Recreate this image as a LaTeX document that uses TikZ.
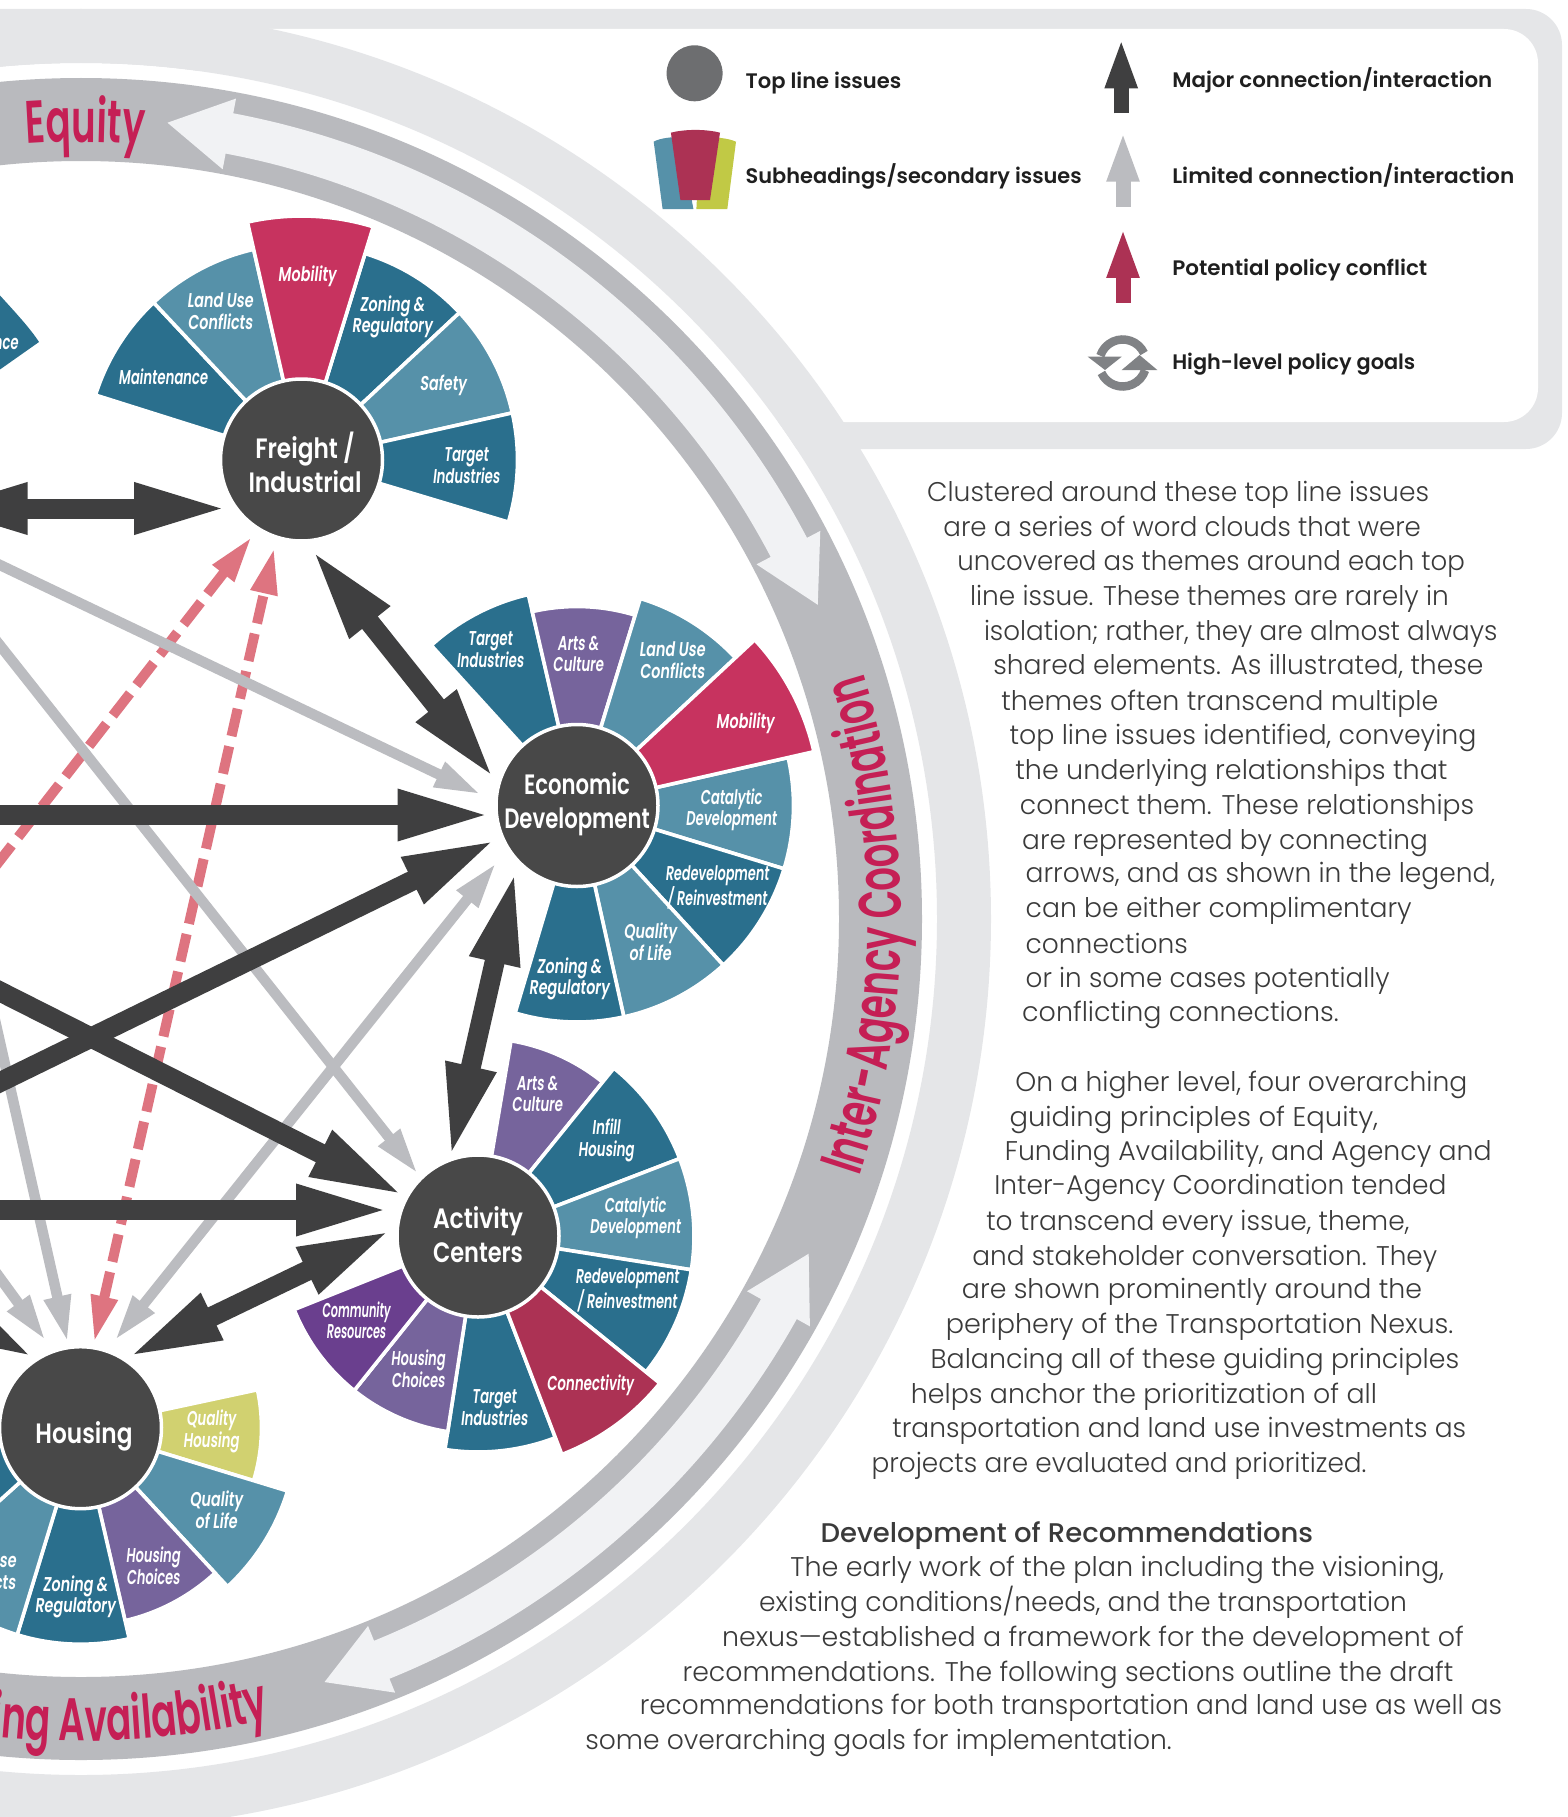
\documentclass[tikz,border=0pt]{standalone}
\usepackage{graphicx}
\usepackage{fontspec}
\usetikzlibrary{arrows.meta,calc,decorations.text}
\newfontfamily\bodyf{Poppins Light}
\newfontfamily\headf{Poppins Medium}
\newfontfamily\legf{Poppins SemiBold}
\newfontfamily\labf[FakeStretch=.72,FakeSlant=.12]{Poppins SemiBold}
\newfontfamily\circf{Poppins SemiBold}
\newfontfamily\curvfam[FakeStretch=.62]{Poppins SemiBold}
\definecolor{ringlight}{HTML}{E5E6E8}
\definecolor{ringgray}{HTML}{B9BABE}
\definecolor{strip}{HTML}{F1F2F4}
\definecolor{tealdark}{HTML}{2A6F8D}
\definecolor{tealmid}{HTML}{5691A9}
\definecolor{purp}{HTML}{76649C}
\definecolor{purpdeep}{HTML}{6A3F8E}
\definecolor{crim}{HTML}{C7335F}
\definecolor{wine}{HTML}{AC3254}
\definecolor{olive}{HTML}{D1D170}
\definecolor{oliveleg}{HTML}{C1C945}
\definecolor{hubdark}{HTML}{484848}
\definecolor{arrowdark}{HTML}{3F3F40}
\definecolor{arrowgray}{HTML}{BBBCC0}
\definecolor{arrowpink}{HTML}{DE7480}
\definecolor{ringtext}{HTML}{C51F55}
\definecolor{legcircle}{HTML}{6D6E70}
\definecolor{legicon}{HTML}{808285}
\definecolor{bodyc}{HTML}{3A3A3A}
\newcommand\curvf{\fontsize{60}{60}\selectfont\curvfam\color{ringtext}}
\newcounter{bodyline}
\newcommand\bl[4]{\stepcounter{bodyline}\pgfmathsetlengthmacro\lw{(#2-#1)*1.159}%
 \node[bodytext,name=b\arabic{bodyline}] at ({#1*1.159},{-(#3*1.159+10)}) {\resizebox{\lw}{\height}{#4}};}
\newcommand\bhd[4]{\stepcounter{bodyline}\pgfmathsetlengthmacro\lw{(#2-#1)*1.159}%
 \node[bodytext,font=\fontsize{27}{30}\selectfont\headf,name=b\arabic{bodyline}] at ({#1*1.159},{-(#3*1.159+10)}) {\resizebox{\lw}{\height}{#4}};}
\newcommand\lgt[5]{\node[legtext,name=#1] at (#2,-#3) {\resizebox{#4pt}{\height}{#5}};}
\newcommand\seg[5]{\draw[segline,fill=#5,shift={(#1)}] (0,0) -- (#2:#4) arc[start angle=#2,end angle=#3,radius=#4] -- cycle;}
\newcommand\lab[5][1]{\node[seglabel,name=#2] at (#3,-#4-2) {\scalebox{#1}[1]{\begin{tabular}{@{}c@{}}#5\end{tabular}}};}
\newcommand\hl[2]{\resizebox{#1pt}{\height}{#2}}
\newcommand\hubtext[2]{\raisebox{#1pt}[0pt][0pt]{\begin{tabular}{@{}c@{}}#2\end{tabular}}}
\tikzset{
 bodytext/.style={anchor=base west,inner sep=0pt,outer sep=0pt,text=bodyc,font=\fontsize{27}{30}\selectfont\bodyf},
 legtext/.style={anchor=west,inner sep=0pt,outer sep=0pt,text=black!88,font=\fontsize{21}{24}\selectfont\legf},
 segline/.style={draw=white,line width=3.6pt},
 seglabel/.style={inner sep=0pt,outer sep=0pt,text=white,font=\fontsize{20}{20.5}\selectfont\labf},
 hub/.style={circle,fill=hubdark,draw=white,line width=3.5pt,minimum size=162pt,inner sep=0pt,outer sep=0pt,align=center,text=white,font=\fontsize{28}{34.5}\selectfont\circf},
 major/.style={draw=arrowdark,line width=20pt,shorten >=-8.5pt,-{Triangle[length=95pt,width=46pt]}},
 majorboth/.style={draw=arrowdark,line width=20pt,shorten >=-8.5pt,shorten <=-8.5pt,{Triangle[length=95pt,width=46pt]}-{Triangle[length=95pt,width=46pt]}},
 limited/.style={draw=arrowgray,line width=10.5pt,shorten >=-4.5pt,-{Triangle[length=47pt,width=25pt]}},
 limitedboth/.style={draw=arrowgray,line width=10.5pt,shorten >=-4.5pt,shorten <=-4.5pt,{Triangle[length=47pt,width=25pt]}-{Triangle[length=47pt,width=25pt]}},
 conflict/.style={draw=arrowpink,line width=10pt,shorten >=-4.5pt,dash pattern=on 28pt off 10.5pt,-{Triangle[length=47pt,width=25pt]}},
 conflictboth/.style={draw=arrowpink,line width=10pt,shorten >=-4.5pt,shorten <=-4.5pt,dash pattern=on 28pt off 10.5pt,{Triangle[length=47pt,width=25pt]}-{Triangle[length=47pt,width=25pt]}},
 legarrow/.style={line width=15pt,shorten >=-5pt,-{Triangle[length=50.6pt,width=29pt]}},
}
\begin{document}
\begin{tikzpicture}[x=1pt,y=1pt]
\useasboundingbox (0,0) rectangle (1567,-1817);
\clip (0,0) rectangle (1567,-1817);
\coordinate (ringc) at (81,-919);
% legend panel
\fill[ringlight,rounded corners=36pt] (-100,-9) rectangle (1562,-449);
\fill[white,rounded corners=34pt] (200,-29) rectangle (1538,-422);
% rings
\begin{scope}[shift={(ringc)}]
\fill[white] (0,0) circle[radius=856];
\draw[ringlight,line width=54pt] (0,0) circle[radius=883];
\draw[ringgray,line width=83pt] (0,0) circle[radius=799.5];
% light strips with arrowheads
\fill[strip] (79.3:820) arc[start angle=79.3,end angle=27.7,radius=820] -- (27.7:835) -- (23.1:801) -- (27.7:763) -- (27.7:779) arc[start angle=27.7,end angle=79.3,radius=779] -- (79.3:763) -- (83.8:801) -- (79.3:835) -- cycle;
\fill[strip] (-29.2:820) arc[start angle=-29.2,end angle=-67.9,radius=820] -- (-67.9:835) -- (-72.3:801) -- (-67.9:763) -- (-67.9:779) arc[start angle=-67.9,end angle=-29.2,radius=779] -- (-29.2:763) -- (-24.7:801) -- (-29.2:835) -- cycle;
% ring texts
\path[decorate,decoration={text along path,text align=center,text={|\curvf|Equity}}] (109.7:777) arc[start angle=109.7,end angle=69.7,radius=777];
\path[decorate,decoration={text along path,text align=center,text={|\curvf|Inter-Agency Coordination}}] (-30.45:820) arc[start angle=-30.45,end angle=29.55,radius=820];
\path[decorate,decoration={text along path,text align=right,text={|\curvf|Funding Availability}}] (-135:822) arc[start angle=-135,end angle=-76.7,radius=822];
\end{scope}
% cropped wedge of a hub beyond the frame
\fill[tealdark] (-5,-290) .. controls (15,-312) and (30,-328) .. (39,-342) -- (-5,-373) -- cycle;
\node[seglabel,anchor=east,name=maintcrop] at (18,-342) {\scalebox{.92}[1]{Maintenance}};
% hub centres
\coordinate (Fc) at (301.5,-460);
\coordinate (Ec) at (577,-805.5);
\coordinate (Ac) at (478,-1236);
\coordinate (Hc) at (80.5,-1427.7);
% freight wedges
\seg{Fc}{162.5}{133.2}{216}{tealdark}
\seg{Fc}{133.2}{102.8}{216}{tealmid}
\seg{Fc}{72.9}{43}{216}{tealdark}
\seg{Fc}{43}{12.6}{216}{tealmid}
\seg{Fc}{12.6}{-16.7}{216}{tealdark}
\seg{Fc}{102.8}{72.9}{244}{crim}
% economic wedges
\seg{Ec}{132.3}{103}{216.5}{tealdark}
\seg{Ec}{103}{73}{199}{purp}
\seg{Ec}{73}{43}{216.5}{tealmid}
\seg{Ec}{12.8}{-17}{216.5}{tealmid}
\seg{Ec}{-17}{-47.5}{216.5}{tealdark}
\seg{Ec}{-47.5}{-77.5}{216.5}{tealmid}
\seg{Ec}{-77.5}{-106.6}{216.5}{tealdark}
\seg{Ec}{43}{12.8}{243}{crim}
% activity wedges
\seg{Ac}{80.4}{51}{198}{purp}
\seg{Ac}{51}{21}{216}{tealdark}
\seg{Ac}{21}{-9}{216}{tealmid}
\seg{Ac}{-9}{-39}{216}{tealdark}
\seg{Ac}{-69}{-98.8}{216}{tealdark}
\seg{Ac}{-98.8}{-128.7}{198}{purp}
\seg{Ac}{-128.7}{-158.2}{198}{purpdeep}
\seg{Ac}{-39}{-69}{234}{wine}
% housing wedges
\seg{Hc}{12.1}{-17}{181}{olive}
\seg{Hc}{-17}{-47.2}{216.5}{tealmid}
\seg{Hc}{-47.2}{-77}{198}{purp}
\seg{Hc}{-77}{-107}{216.5}{tealdark}
\seg{Hc}{-107}{-138}{216.5}{tealmid}
\seg{Hc}{-138}{-168}{216.5}{tealdark}
% hubs
\node[hub,name=F] at (Fc) {\hspace*{7pt}\hubtext{-13.4}{\hl{99.5}{Freight /}\\\hl{113}{Industrial}}};
\node[hub,name=E] at (Ec) {\hubtext{-5.3}{\hl{106}{Economic}\\\hl{145.5}{Development}}};
\node[hub,name=A] at (Ac) {\hubtext{-8.7}{\hl{90}{Activity}\\\hl{90}{Centers}}};
\node[hub,name=H] at (Hc) {\hspace*{7pt}\hubtext{-15}{\hl{97}{Housing}}};
% connector ends
\coordinate (fTipE) at (316,-555);
\coordinate (eTipF) at (490,-773.3);
\coordinate (fTipW) at (220.7,-508.5);
\coordinate (wTipF) at (-59,-508.5);
\coordinate (offC) at (-100,-517.3);
\coordinate (eTipC) at (477.3,-792.7);
\coordinate (offD) at (-100,-519);
\coordinate (aTipD) at (415.4,-1170.7);
\coordinate (offE) at (-50,-815);
\coordinate (eTipE) at (484,-815);
\coordinate (offG) at (-100,-1131);
\coordinate (eTipG) at (490,-842.7);
\coordinate (eTipH) at (493.8,-866);
\coordinate (hTipE) at (117.3,-1337.3);
\coordinate (offI) at (-100,-941);
\coordinate (aTipI) at (397.5,-1192.3);
\coordinate (offJ) at (-50,-1210);
\coordinate (aTipJ) at (382.5,-1210);
\coordinate (aTipH) at (385,-1233.3);
\coordinate (hTipA) at (134.3,-1354);
\coordinate (eTipA) at (513.8,-877.7);
\coordinate (aTipE) at (451.8,-1150.7);
\coordinate (offM) at (-100,-989);
\coordinate (fTipM) at (249.3,-540);
\coordinate (fTipN) at (273.3,-551.7);
\coordinate (hTipN) at (95,-1338.3);
\coordinate (offO) at (-100,-1141);
\coordinate (hTipO) at (43.3,-1337.3);
\coordinate (offP) at (-40,-865);
\coordinate (hTipP) at (66.7,-1338.3);
\coordinate (offQ) at (-200,-1231);
\coordinate (hTipQ) at (27.7,-1354.3);
% conflict connectors
\draw[conflict] (offM) -- (fTipM);
\draw[conflictboth] (hTipN) -- (fTipN);
% limited connectors
\draw[limited] (offC) -- (eTipC);
\draw[limited] (offD) -- (aTipD);
\draw[limitedboth] (hTipE) -- (eTipH);
\draw[limited] (offO) -- (hTipO);
\draw[limited] (offP) -- (hTipP);
% major connectors
\draw[majorboth] (wTipF) -- (fTipW);
\draw[majorboth] (fTipE) -- (eTipF);
\draw[major] (offE) -- (eTipE);
\draw[major] (offG) -- (eTipG);
\draw[major] (offI) -- (aTipI);
\draw[major] (offJ) -- (aTipJ);
\draw[major] (offQ) -- (hTipQ);
\draw[majorboth] (aTipH) -- (hTipA);
\draw[majorboth] (eTipA) -- (aTipE);
% wedge labels: freight
\lab{l1}{307}{275}{Mobility}
\lab{l2}{220}{312}{Land Use\\Conflicts}
\lab{l3}{392}{315}{Zoning \&\\Regulatory}
\lab{l4}{443}{384}{Safety}
\lab[.92]{l5}{466}{466}{Target\\Industries}
\lab[.92]{l6}{163}{378}{Maintenance}
% economic
\lab[.92]{l7}{490}{650}{Target\\Industries}
\lab[.93]{l8}{578}{655}{Arts \&\\Culture}
\lab{l9}{672}{661}{Land Use\\Conflicts}
\lab{l10}{745}{722}{Mobility}
\lab[.92]{l11}{731}{808}{Catalytic\\Development}
\lab[.89]{l12}{717}{887}{Redevelopment\\/ Reinvestment}
\lab{l13}{650}{943}{Quality\\of Life}
\lab{l14}{569}{977}{Zoning \&\\Regulatory}
% activity
\lab[.93]{l15}{537}{1095}{Arts \&\\Culture}
\lab[.93]{l16}{606}{1139}{Infill\\Housing}
\lab[.92]{l17}{635}{1216}{Catalytic\\Development}
\lab[.89]{l18}{627}{1290}{Redevelopment\\/ Reinvestment}
\lab[.93]{l19}{590}{1384}{Connectivity}
\lab[.92]{l20}{494}{1408}{Target\\Industries}
\lab[.9]{l21}{418}{1370}{Housing\\Choices}
\lab[.78]{l22}{356}{1321}{Community\\Resources}
% housing
\lab[.93]{l23}{211}{1430}{Quality\\Housing}
\lab{l24}{216}{1511}{Quality\\of Life}
\lab[.9]{l25}{153}{1567}{Housing\\Choices}
\lab{l26}{75}{1595}{Zoning \&\\Regulatory}
\lab{l27}{-17}{1572}{Land Use\\Conflicts}
% legend
\node[circle,fill=legcircle,minimum size=56pt,inner sep=0pt,name=legdot] at (694.6,-73.3) {};
\fill[tealmid] (653.7,-141.7) .. controls (660,-138) and (672,-137) .. (680,-137) -- (693.4,-209) -- (662.6,-209) -- cycle;
\fill[oliveleg] (700,-137) .. controls (715,-137) and (728,-138) .. (736,-141.7) -- (727.3,-209) -- (696.4,-209) -- cycle;
\fill[wine] (670.9,-132.7) .. controls (685,-129) and (706,-129) .. (720,-132.7) -- (710,-200) -- (680.4,-200) -- cycle;
\coordinate (la1) at (1121.2,-113.3); \coordinate (la2) at (1121.2,-42.7);
\coordinate (lb1) at (1123,-206.7); \coordinate (lb2) at (1123,-136);
\coordinate (lc1) at (1123,-302.7); \coordinate (lc2) at (1123,-232.3);
\draw[legarrow,draw=arrowdark] (la1) -- (la2);
\draw[legarrow,draw=arrowgray] (lb1) -- (lb2);
\draw[legarrow,draw=wine] (lc1) -- (lc2);
\begin{scope}[shift={(1122.7,-363)}]
\draw[legicon,line width=8.5pt] (25:23.5) arc[start angle=25,end angle=162,radius=23.5];
\draw[legicon,line width=8.5pt] (205:23.5) arc[start angle=205,end angle=342,radius=23.5];
\fill[legicon] (-35,6.3) -- (-1,6.3) -- (-17.7,-7) -- cycle;
\fill[legicon] (-1,-7) -- (34.6,-7) -- (16.8,8) -- cycle;
\end{scope}
\lgt{lt1}{745.7}{83}{155.6}{Top line issues}
\lgt{lt2}{745.7}{176}{336}{Subheadings/secondary issues}
\lgt{lt3}{1172.3}{80}{320}{Major connection/interaction}
\lgt{lt4}{1172.3}{175}{342}{Limited connection/interaction}
\lgt{lt5}{1172.3}{270.5}{255}{Potential policy conflict}
\lgt{lt6}{1172.3}{364.3}{243}{High-level policy goals}
% body text
\bl{800}{1233}{424}{Clustered around these top line issues}
\bl{814}{1226}{454}{are a series of word clouds that were}
\bl{826}{1264}{484}{uncovered as themes around each top}
\bl{837}{1250}{514}{line issue. These themes are rarely in}
\bl{849}{1292}{544}{isolation; rather, they are almost always}
\bl{857}{1280}{573}{shared elements. As illustrated, these}
\bl{864}{1241}{604}{themes often transcend multiple}
\bl{871}{1274}{634}{top line issues identified, conveying}
\bl{876}{1249}{664}{the underlying relationships that}
\bl{880}{1272}{694}{connect them. These relationships}
\bl{882}{1232}{724}{are represented by connecting}
\bl{885}{1290}{753}{arrows, and as shown in the legend,}
\bl{885}{1218}{783}{can be either complimentary}
\bl{885}{1025}{814}{connections}
\bl{885}{1199}{843}{or in some cases potentially}
\bl{882}{1155}{873}{conflicting connections.}
\bl{876}{1266}{933}{On a higher level, four overarching}
\bl{871}{1189}{963}{guiding principles of Equity,}
\bl{867}{1287}{993}{Funding Availability, and Agency and}
\bl{858}{1248}{1022}{Inter-Agency Coordination tended}
\bl{851}{1216}{1053}{to transcend every issue, theme,}
\bl{839}{1240}{1083}{and stakeholder conversation. They}
\bl{830}{1227}{1112}{are shown prominently around the}
\bl{816}{1254}{1142}{periphery of the Transportation Nexus.}
\bl{803}{1259}{1172}{Balancing all of these guiding principles}
\bl{786}{1188}{1202}{helps anchor the prioritization of all}
\bl{770}{1265}{1232}{transportation and land use investments as}
\bl{752}{1179}{1262}{projects are evaluated and prioritized.}
\bhd{708}{1133}{1322}{Development of Recommendations}
\bl{682}{1246}{1352}{The early work of the plan including the visioning,}
\bl{655}{1214}{1382}{existing conditions/needs, and the transportation}
\bl{623}{1263}{1412}{nexus—established a framework for the development of}
\bl{589}{1254}{1442}{recommendations. The following sections outline the draft}
\bl{552}{1296}{1471}{recommendations for both transportation and land use as well as}
\bl{505}{1011}{1501}{some overarching goals for implementation.}
\end{tikzpicture}
\end{document}
